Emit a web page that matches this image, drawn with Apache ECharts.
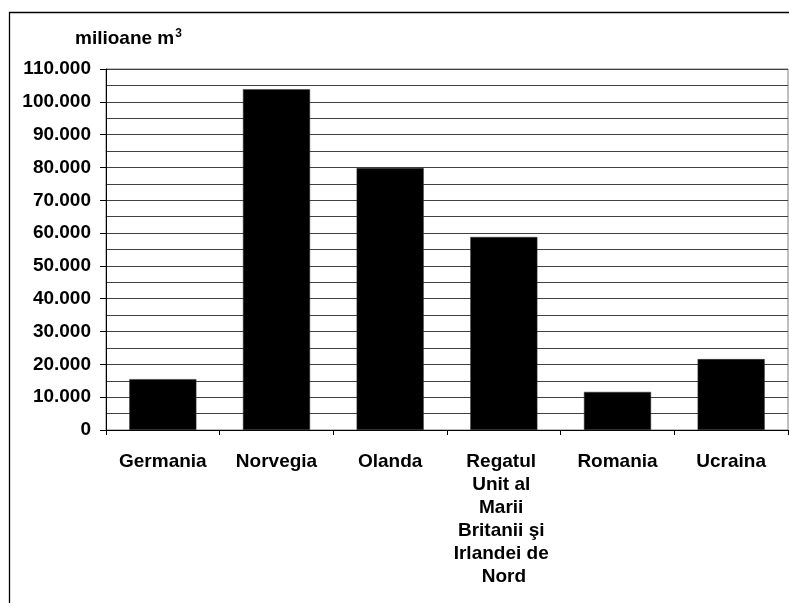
<!DOCTYPE html>
<html>
<head>
<meta charset="utf-8">
<script src="https://cdn.jsdelivr.net/npm/echarts@6/dist/echarts.min.js"></script>
<style>html,body{margin:0;padding:0;background:#fff}#c{width:789px;height:603px}</style>
</head>
<body>
<div id="c"></div>
<script>
const categories = ['Germania', 'Norvegia', 'Olanda', 'Regatul Unit al Marii Britanii şi Irlandei de Nord', 'Romania', 'Ucraina'];
const values = [15500, 103800, 79800, 58800, 11600, 21600];
const yMax = 110000;
const yStep = 10000;
const unitText = 'milioane m';
const unitSup = '3';

function fmt(v) {
  return String(v).replace(/\B(?=(\d{3})+(?!\d))/g, '.');
}

const font = '"Liberation Sans", Arial, sans-serif';
const chart = echarts.init(document.getElementById('c'), null, {renderer: 'canvas'});
chart.setOption({
  animation: false,
  backgroundColor: '#fff',
  grid: {left: 106, right: 1, top: 69, bottom: 173, show: true, borderColor: '#808080', borderWidth: 1},
  title: {
    text: '{a|' + unitText + '}{s|' + unitSup + '}',
    left: 70, top: 23,
    textStyle: {
      rich: {
        a: {fontFamily: font, fontWeight: 'bold', fontSize: 19, color: '#000'},
        s: {fontFamily: font, fontWeight: 'bold', fontSize: 12, color: '#000', verticalAlign: 'top', padding: [0, 0, 10, 1]}
      }
    }
  },
  xAxis: {
    type: 'category',
    data: categories,
    axisLine: {lineStyle: {color: '#000', width: 1}},
    axisTick: {show: true, length: 5, alignWithLabel: false, lineStyle: {color: '#000'}},
    axisLabel: {
      interval: 0, margin: 20, color: '#000', fontFamily: font, fontWeight: 'bold', fontSize: 19,
      lineHeight: 23, width: 104, overflow: 'break', align: 'center'
    },
    splitLine: {show: false}
  },
  yAxis: {
    type: 'value',
    min: 0, max: yMax, interval: yStep,
    axisLine: {show: true, lineStyle: {color: '#000', width: 1}},
    axisTick: {show: true, length: 6, lineStyle: {color: '#000'}},
    axisLabel: {margin: 15, color: '#000', fontFamily: font, fontWeight: 'bold', fontSize: 19, formatter: fmt},
    splitLine: {show: true, lineStyle: {color: '#404040', width: 1}},
    minorTick: {show: false, splitNumber: 2},
    minorSplitLine: {show: true, lineStyle: {color: '#404040', width: 1}}
  },
  series: [{
    type: 'bar',
    data: values,
    barCategoryGap: '41%',
    itemStyle: {color: '#000', borderColor: '#333', borderWidth: 0.5}
  }],
  graphic: [{
    type: 'polyline',
    shape: {points: [[9.5, 700], [9.5, 12.5], [900, 12.5]]},
    style: {stroke: '#000', lineWidth: 1.3, fill: null},
    silent: true
  }]
});
</script>
</body>
</html>
